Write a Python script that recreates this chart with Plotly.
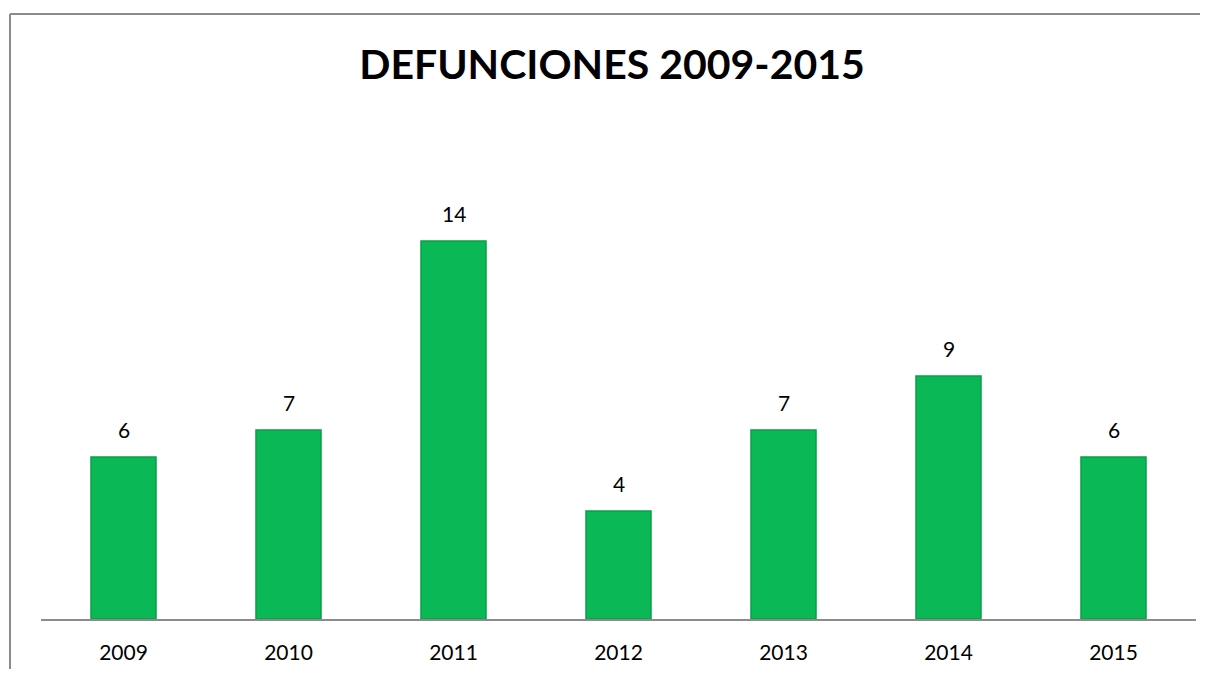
import plotly.graph_objects as go

years = ["2009", "2010", "2011", "2012", "2013", "2014", "2015"]
deaths = [6, 7, 14, 4, 7, 9, 6]
title_text = "DEFUNCIONES 2009-2015"

fig = go.Figure()
fig.add_trace(go.Bar(
    x=years, y=deaths,
    width=0.394,
    marker=dict(color="#0ab955", line=dict(color="#079f49", width=1.5)),
    hoverinfo="x+y",
))

for i, v in enumerate(deaths):
    fig.add_annotation(x=i, y=v, text=str(v), showarrow=False,
                       yanchor="bottom", yshift=13,
                       font=dict(family="Lato", size=21, color="#000000"))

# page has an 8px body margin; figure sized to fit inside the 1208x677 window
OFF = 8
W, H = 1208 - 2 * OFF, 677 - 2 * OFF
L, R, T, B = 41 - OFF, (1208 - 1196) - OFF, 187 - OFF, (677 - 619) - OFF
pw, ph = W - L - R, H - T - B
def px(x): return (x - OFF - L) / pw
def py(y): return (H - B - (y - OFF)) / ph

fig.add_shape(type="line", xref="paper", yref="paper",
              x0=px(10), x1=px(1210), y0=py(14), y1=py(14),
              line=dict(color="#8c8c8c", width=2))
fig.add_shape(type="line", xref="paper", yref="paper",
              x0=px(10), x1=px(10), y0=py(14), y1=py(690),
              line=dict(color="#8c8c8c", width=2))

fig.update_layout(
    width=W, height=H,
    margin=dict(l=L, r=R, t=T, b=B),
    paper_bgcolor="white", plot_bgcolor="white",
    title=dict(text=f"<b>{title_text}</b>", x=px(612), xref="paper", xanchor="center",
               y=1 - (64.5 - OFF) / H, yanchor="middle",
               font=dict(family="Lato", size=41, color="#000000")),
    showlegend=False,
    xaxis=dict(type="category", range=[-0.5, len(years) - 0.5],
               showline=True, linecolor="#8c8c8c", linewidth=2, ticks="",
               tickfont=dict(family="Lato", size=21, color="#000000"),
               ticklabelstandoff=14, showgrid=False, zeroline=False),
    yaxis=dict(range=[0, 16], visible=False, showgrid=False, zeroline=False),
)

fig.write_html("out.html")
